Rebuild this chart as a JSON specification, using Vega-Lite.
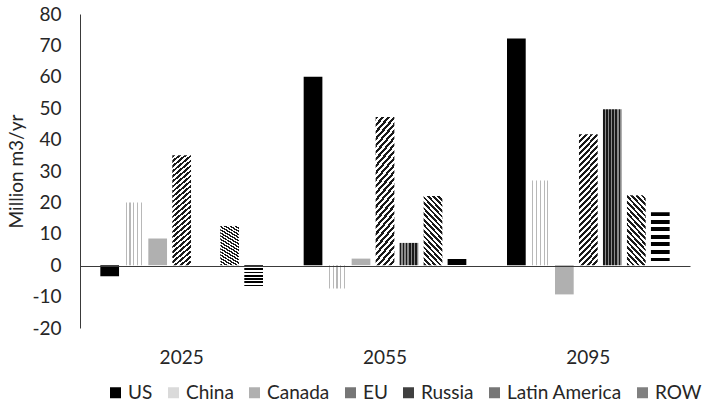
{
  "$schema": "https://vega.github.io/schema/vega-lite/v6.json",
  "width": 610,
  "height": 314,
  "autosize": {"type": "none"},
  "padding": {"left": 80, "top": 14, "right": 18, "bottom": 77},
  "config": {"view": {"stroke": null}, "font": "Lato"},
  "data": {
    "values": [
      {"year": "2025", "region": "US", "value": -3.5},
      {"year": "2025", "region": "China", "value": 20},
      {"year": "2025", "region": "Canada", "value": 8.5},
      {"year": "2025", "region": "EU", "value": 35},
      {"year": "2025", "region": "Russia", "value": 0},
      {"year": "2025", "region": "Latin America", "value": 12.5},
      {"year": "2025", "region": "ROW", "value": -7.2},
      {"year": "2055", "region": "US", "value": 60},
      {"year": "2055", "region": "China", "value": -7.4},
      {"year": "2055", "region": "Canada", "value": 2.1},
      {"year": "2055", "region": "EU", "value": 47.2},
      {"year": "2055", "region": "Russia", "value": 7.1},
      {"year": "2055", "region": "Latin America", "value": 22},
      {"year": "2055", "region": "ROW", "value": 2.3},
      {"year": "2095", "region": "US", "value": 72.2},
      {"year": "2095", "region": "China", "value": 27},
      {"year": "2095", "region": "Canada", "value": -9.3},
      {"year": "2095", "region": "EU", "value": 41.7},
      {"year": "2095", "region": "Russia", "value": 49.7},
      {"year": "2095", "region": "Latin America", "value": 22.3},
      {"year": "2095", "region": "ROW", "value": 16.9}
    ]
  },
  "mark": {"type": "bar", "strokeWidth": 0},
  "encoding": {
    "x": {
      "field": "year",
      "type": "nominal",
      "scale": {"paddingInner": 0.2, "paddingOuter": 0.1},
      "axis": {"title": null, "labelAngle": 0, "ticks": false, "domain": true, "domainColor": "#3a3a3a", "domainWidth": 1, "offset": -62, "zindex": 1, "labelPadding": 82, "labelFontSize": 19, "labelColor": "#262626", "labelFont": "Lato"}
    },
    "xOffset": {
      "field": "region",
      "type": "nominal",
      "sort": ["US", "China", "Canada", "EU", "Russia", "Latin America", "ROW"],
      "scale": {"paddingInner": 0.22, "paddingOuter": 0}
    },
    "y": {
      "field": "value",
      "type": "quantitative",
      "scale": {"domain": [-20, 80], "nice": false, "zero": false},
      "axis": {
        "title": "Million m3/yr",
        "titleFontSize": 19,
        "titleFontWeight": "normal",
        "titleColor": "#262626",
        "titleFont": "Lato",
        "titlePadding": 5,
        "values": [-20, -10, 0, 10, 20, 30, 40, 50, 60, 70, 80],
        "labelExpr": "datum.value + ''",
        "labelOverlap": false,
        "grid": false,
        "ticks": false,
        "labelPadding": 19,
        "labelFontSize": 19,
        "labelColor": "#262626",
        "labelFont": "Lato",
        "labelFlush": false,
        "domainColor": "#3a3a3a",
        "domainWidth": 1
      }
    },
    "color": {
      "condition": [
        {"test": "datum.region === 'China'", "value": {"gradient": "linear", "x1": 0, "y1": 0, "x2": 1, "y2": 0, "stops": [
            {"offset": 0, "color": "#ffffff"}, {"offset": 0.07, "color": "#ffffff"}, {"offset": 0.07, "color": "#b8b8b8"}, {"offset": 0.13, "color": "#b8b8b8"}, {"offset": 0.13, "color": "#ffffff"},
            {"offset": 0.27, "color": "#ffffff"}, {"offset": 0.27, "color": "#b8b8b8"}, {"offset": 0.33, "color": "#b8b8b8"}, {"offset": 0.33, "color": "#ffffff"},
            {"offset": 0.47, "color": "#ffffff"}, {"offset": 0.47, "color": "#b8b8b8"}, {"offset": 0.53, "color": "#b8b8b8"}, {"offset": 0.53, "color": "#ffffff"},
            {"offset": 0.67, "color": "#ffffff"}, {"offset": 0.67, "color": "#b8b8b8"}, {"offset": 0.73, "color": "#b8b8b8"}, {"offset": 0.73, "color": "#ffffff"},
            {"offset": 0.87, "color": "#ffffff"}, {"offset": 0.87, "color": "#b8b8b8"}, {"offset": 0.93, "color": "#b8b8b8"}, {"offset": 0.93, "color": "#ffffff"}, {"offset": 1, "color": "#ffffff"}
          ]}},
        {"test": "datum.region === 'EU'", "value": {"gradient": "linear", "x1": 0, "y1": 0, "x2": 0.164, "y2": 1.122, "stops": [
            {"offset": 0, "color": "#1a1a1a"}, {"offset": 0.02, "color": "#1a1a1a"}, {"offset": 0.02, "color": "#ffffff"}, {"offset": 0.04, "color": "#ffffff"},
            {"offset": 0.04, "color": "#1a1a1a"}, {"offset": 0.06, "color": "#1a1a1a"}, {"offset": 0.06, "color": "#ffffff"}, {"offset": 0.08, "color": "#ffffff"},
            {"offset": 0.08, "color": "#1a1a1a"}, {"offset": 0.1, "color": "#1a1a1a"}, {"offset": 0.1, "color": "#ffffff"}, {"offset": 0.12, "color": "#ffffff"},
            {"offset": 0.12, "color": "#1a1a1a"}, {"offset": 0.14, "color": "#1a1a1a"}, {"offset": 0.14, "color": "#ffffff"}, {"offset": 0.16, "color": "#ffffff"},
            {"offset": 0.16, "color": "#1a1a1a"}, {"offset": 0.18, "color": "#1a1a1a"}, {"offset": 0.18, "color": "#ffffff"}, {"offset": 0.2, "color": "#ffffff"},
            {"offset": 0.2, "color": "#1a1a1a"}, {"offset": 0.22, "color": "#1a1a1a"}, {"offset": 0.22, "color": "#ffffff"}, {"offset": 0.24, "color": "#ffffff"},
            {"offset": 0.24, "color": "#1a1a1a"}, {"offset": 0.26, "color": "#1a1a1a"}, {"offset": 0.26, "color": "#ffffff"}, {"offset": 0.28, "color": "#ffffff"},
            {"offset": 0.28, "color": "#1a1a1a"}, {"offset": 0.3, "color": "#1a1a1a"}, {"offset": 0.3, "color": "#ffffff"}, {"offset": 0.32, "color": "#ffffff"},
            {"offset": 0.32, "color": "#1a1a1a"}, {"offset": 0.34, "color": "#1a1a1a"}, {"offset": 0.34, "color": "#ffffff"}, {"offset": 0.36, "color": "#ffffff"},
            {"offset": 0.36, "color": "#1a1a1a"}, {"offset": 0.38, "color": "#1a1a1a"}, {"offset": 0.38, "color": "#ffffff"}, {"offset": 0.4, "color": "#ffffff"},
            {"offset": 0.4, "color": "#1a1a1a"}, {"offset": 0.42, "color": "#1a1a1a"}, {"offset": 0.42, "color": "#ffffff"}, {"offset": 0.44, "color": "#ffffff"},
            {"offset": 0.44, "color": "#1a1a1a"}, {"offset": 0.46, "color": "#1a1a1a"}, {"offset": 0.46, "color": "#ffffff"}, {"offset": 0.48, "color": "#ffffff"},
            {"offset": 0.48, "color": "#1a1a1a"}, {"offset": 0.5, "color": "#1a1a1a"}, {"offset": 0.5, "color": "#ffffff"}, {"offset": 0.52, "color": "#ffffff"},
            {"offset": 0.52, "color": "#1a1a1a"}, {"offset": 0.54, "color": "#1a1a1a"}, {"offset": 0.54, "color": "#ffffff"}, {"offset": 0.56, "color": "#ffffff"},
            {"offset": 0.56, "color": "#1a1a1a"}, {"offset": 0.58, "color": "#1a1a1a"}, {"offset": 0.58, "color": "#ffffff"}, {"offset": 0.6, "color": "#ffffff"},
            {"offset": 0.6, "color": "#1a1a1a"}, {"offset": 0.62, "color": "#1a1a1a"}, {"offset": 0.62, "color": "#ffffff"}, {"offset": 0.64, "color": "#ffffff"},
            {"offset": 0.64, "color": "#1a1a1a"}, {"offset": 0.66, "color": "#1a1a1a"}, {"offset": 0.66, "color": "#ffffff"}, {"offset": 0.68, "color": "#ffffff"},
            {"offset": 0.68, "color": "#1a1a1a"}, {"offset": 0.7, "color": "#1a1a1a"}, {"offset": 0.7, "color": "#ffffff"}, {"offset": 0.72, "color": "#ffffff"},
            {"offset": 0.72, "color": "#1a1a1a"}, {"offset": 0.74, "color": "#1a1a1a"}, {"offset": 0.74, "color": "#ffffff"}, {"offset": 0.76, "color": "#ffffff"},
            {"offset": 0.76, "color": "#1a1a1a"}, {"offset": 0.78, "color": "#1a1a1a"}, {"offset": 0.78, "color": "#ffffff"}, {"offset": 0.8, "color": "#ffffff"},
            {"offset": 0.8, "color": "#1a1a1a"}, {"offset": 0.82, "color": "#1a1a1a"}, {"offset": 0.82, "color": "#ffffff"}, {"offset": 0.84, "color": "#ffffff"},
            {"offset": 0.84, "color": "#1a1a1a"}, {"offset": 0.86, "color": "#1a1a1a"}, {"offset": 0.86, "color": "#ffffff"}, {"offset": 0.88, "color": "#ffffff"},
            {"offset": 0.88, "color": "#1a1a1a"}, {"offset": 0.9, "color": "#1a1a1a"}, {"offset": 0.9, "color": "#ffffff"}, {"offset": 0.92, "color": "#ffffff"},
            {"offset": 0.92, "color": "#1a1a1a"}, {"offset": 0.94, "color": "#1a1a1a"}, {"offset": 0.94, "color": "#ffffff"}, {"offset": 0.96, "color": "#ffffff"},
            {"offset": 0.96, "color": "#1a1a1a"}, {"offset": 0.98, "color": "#1a1a1a"}, {"offset": 0.98, "color": "#ffffff"}, {"offset": 1, "color": "#ffffff"}
          ]}},
        {"test": "datum.region === 'Russia'", "value": {"gradient": "linear", "x1": 0, "y1": 0, "x2": 1, "y2": 0, "stops": [
            {"offset": 0, "color": "#1a1a1a"}, {"offset": 0.0833, "color": "#1a1a1a"}, {"offset": 0.0833, "color": "#8a8a8a"}, {"offset": 0.1667, "color": "#8a8a8a"},
            {"offset": 0.1667, "color": "#1a1a1a"}, {"offset": 0.25, "color": "#1a1a1a"}, {"offset": 0.25, "color": "#8a8a8a"}, {"offset": 0.3333, "color": "#8a8a8a"},
            {"offset": 0.3333, "color": "#1a1a1a"}, {"offset": 0.4167, "color": "#1a1a1a"}, {"offset": 0.4167, "color": "#8a8a8a"}, {"offset": 0.5, "color": "#8a8a8a"},
            {"offset": 0.5, "color": "#1a1a1a"}, {"offset": 0.5833, "color": "#1a1a1a"}, {"offset": 0.5833, "color": "#8a8a8a"}, {"offset": 0.6667, "color": "#8a8a8a"},
            {"offset": 0.6667, "color": "#1a1a1a"}, {"offset": 0.75, "color": "#1a1a1a"}, {"offset": 0.75, "color": "#8a8a8a"}, {"offset": 0.8333, "color": "#8a8a8a"},
            {"offset": 0.8333, "color": "#1a1a1a"}, {"offset": 0.9167, "color": "#1a1a1a"}, {"offset": 0.9167, "color": "#8a8a8a"}, {"offset": 1, "color": "#8a8a8a"}
          ]}},
        {"test": "datum.region === 'Latin America'", "value": {"gradient": "linear", "x1": 0, "y1": 1, "x2": 0.345, "y2": -0.19, "stops": [
            {"offset": 0, "color": "#1a1a1a"}, {"offset": 0.03125, "color": "#1a1a1a"}, {"offset": 0.03125, "color": "#ffffff"}, {"offset": 0.0625, "color": "#ffffff"},
            {"offset": 0.0625, "color": "#1a1a1a"}, {"offset": 0.09375, "color": "#1a1a1a"}, {"offset": 0.09375, "color": "#ffffff"}, {"offset": 0.125, "color": "#ffffff"},
            {"offset": 0.125, "color": "#1a1a1a"}, {"offset": 0.15625, "color": "#1a1a1a"}, {"offset": 0.15625, "color": "#ffffff"}, {"offset": 0.1875, "color": "#ffffff"},
            {"offset": 0.1875, "color": "#1a1a1a"}, {"offset": 0.21875, "color": "#1a1a1a"}, {"offset": 0.21875, "color": "#ffffff"}, {"offset": 0.25, "color": "#ffffff"},
            {"offset": 0.25, "color": "#1a1a1a"}, {"offset": 0.28125, "color": "#1a1a1a"}, {"offset": 0.28125, "color": "#ffffff"}, {"offset": 0.3125, "color": "#ffffff"},
            {"offset": 0.3125, "color": "#1a1a1a"}, {"offset": 0.34375, "color": "#1a1a1a"}, {"offset": 0.34375, "color": "#ffffff"}, {"offset": 0.375, "color": "#ffffff"},
            {"offset": 0.375, "color": "#1a1a1a"}, {"offset": 0.40625, "color": "#1a1a1a"}, {"offset": 0.40625, "color": "#ffffff"}, {"offset": 0.4375, "color": "#ffffff"},
            {"offset": 0.4375, "color": "#1a1a1a"}, {"offset": 0.46875, "color": "#1a1a1a"}, {"offset": 0.46875, "color": "#ffffff"}, {"offset": 0.5, "color": "#ffffff"},
            {"offset": 0.5, "color": "#1a1a1a"}, {"offset": 0.53125, "color": "#1a1a1a"}, {"offset": 0.53125, "color": "#ffffff"}, {"offset": 0.5625, "color": "#ffffff"},
            {"offset": 0.5625, "color": "#1a1a1a"}, {"offset": 0.59375, "color": "#1a1a1a"}, {"offset": 0.59375, "color": "#ffffff"}, {"offset": 0.625, "color": "#ffffff"},
            {"offset": 0.625, "color": "#1a1a1a"}, {"offset": 0.65625, "color": "#1a1a1a"}, {"offset": 0.65625, "color": "#ffffff"}, {"offset": 0.6875, "color": "#ffffff"},
            {"offset": 0.6875, "color": "#1a1a1a"}, {"offset": 0.71875, "color": "#1a1a1a"}, {"offset": 0.71875, "color": "#ffffff"}, {"offset": 0.75, "color": "#ffffff"},
            {"offset": 0.75, "color": "#1a1a1a"}, {"offset": 0.78125, "color": "#1a1a1a"}, {"offset": 0.78125, "color": "#ffffff"}, {"offset": 0.8125, "color": "#ffffff"},
            {"offset": 0.8125, "color": "#1a1a1a"}, {"offset": 0.84375, "color": "#1a1a1a"}, {"offset": 0.84375, "color": "#ffffff"}, {"offset": 0.875, "color": "#ffffff"},
            {"offset": 0.875, "color": "#1a1a1a"}, {"offset": 0.90625, "color": "#1a1a1a"}, {"offset": 0.90625, "color": "#ffffff"}, {"offset": 0.9375, "color": "#ffffff"},
            {"offset": 0.9375, "color": "#1a1a1a"}, {"offset": 0.96875, "color": "#1a1a1a"}, {"offset": 0.96875, "color": "#ffffff"}, {"offset": 1, "color": "#ffffff"}
          ]}},
        {"test": "datum.region === 'ROW'", "value": {"gradient": "linear", "x1": 0, "y1": 0, "x2": 0, "y2": 1, "stops": [
            {"offset": 0, "color": "#000000"}, {"offset": 0.0714, "color": "#000000"}, {"offset": 0.0714, "color": "#ffffff"}, {"offset": 0.1429, "color": "#ffffff"},
            {"offset": 0.1429, "color": "#000000"}, {"offset": 0.2143, "color": "#000000"}, {"offset": 0.2143, "color": "#ffffff"}, {"offset": 0.2857, "color": "#ffffff"},
            {"offset": 0.2857, "color": "#000000"}, {"offset": 0.3571, "color": "#000000"}, {"offset": 0.3571, "color": "#ffffff"}, {"offset": 0.4286, "color": "#ffffff"},
            {"offset": 0.4286, "color": "#000000"}, {"offset": 0.5, "color": "#000000"}, {"offset": 0.5, "color": "#ffffff"}, {"offset": 0.5714, "color": "#ffffff"},
            {"offset": 0.5714, "color": "#000000"}, {"offset": 0.6429, "color": "#000000"}, {"offset": 0.6429, "color": "#ffffff"}, {"offset": 0.7143, "color": "#ffffff"},
            {"offset": 0.7143, "color": "#000000"}, {"offset": 0.7857, "color": "#000000"}, {"offset": 0.7857, "color": "#ffffff"}, {"offset": 0.8571, "color": "#ffffff"},
            {"offset": 0.8571, "color": "#000000"}, {"offset": 0.9286, "color": "#000000"}, {"offset": 0.9286, "color": "#ffffff"}, {"offset": 1, "color": "#ffffff"}
          ]}}
      ],
      "field": "region",
      "type": "nominal",
      "sort": ["US", "China", "Canada", "EU", "Russia", "Latin America", "ROW"],
      "scale": {
        "domain": ["US", "China", "Canada", "EU", "Russia", "Latin America", "ROW"],
        "range": ["#000000", "#dadada", "#b0b0b0", "#767676", "#404040", "#767676", "#808080"]
      },
      "legend": {
        "title": null,
        "orient": "none",
        "direction": "horizontal",
        "columns": 7,
        "legendX": 26,
        "legendY": 369,
        "padding": 0,
        "symbolType": "square",
        "symbolSize": 121,
        "symbolStrokeWidth": 0,
        "labelFontSize": 19,
        "labelFont": "Lato",
        "labelColor": "#262626",
        "labelOffset": 3,
        "columnPadding": 11
      }
    }
  }
}
